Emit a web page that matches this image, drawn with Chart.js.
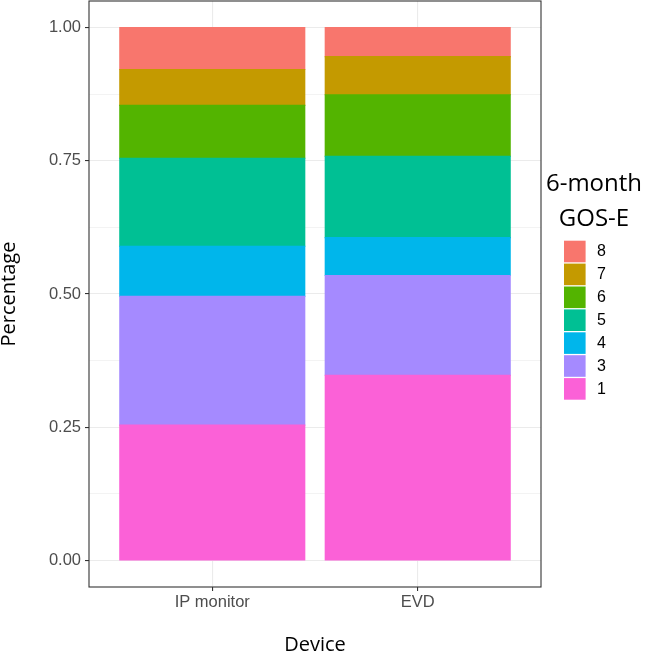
<!DOCTYPE html>
<html>
<head>
<meta charset="utf-8">
<script src="https://cdn.jsdelivr.net/npm/chart.js@4/dist/chart.umd.min.js"></script>
<style>
  html, body { margin: 0; padding: 0; background: #ffffff; }
  #wrap { width: 645px; height: 653px; position: relative; }
</style>
</head>
<body>
<div id="wrap"><canvas id="c" width="645" height="653"></canvas></div>
<script>
// ---- data ----
const categories = ['IP monitor', 'EVD'];
const gosLevels = ['1', '3', '4', '5', '6', '7', '8'];           // bottom -> top of stack
const ipMonitorShares = [0.254, 0.2414, 0.0942, 0.1652, 0.0992, 0.0674, 0.0786];
const evdShares       = [0.3475, 0.1872, 0.0711, 0.1528, 0.1154, 0.0717, 0.0543];
const levelColors = ['#FB61D7', '#A58AFF', '#00B6EB', '#00C094', '#53B400', '#C49A00', '#F8766D'];
const yMajorTicks = [0, 0.25, 0.5, 0.75, 1];
const yMinorTicks = [0.125, 0.375, 0.625, 0.875];
const yTickLabels = ['0.00', '0.25', '0.50', '0.75', '1.00'];
const legendTitle = ['6-month', 'GOS-E'];
const xTitle = 'Device';
const yTitle = 'Percentage';

const catPositions = categories.map((c, i) => i + 1);

const datasets = gosLevels.map((lvl, i) => ({
  label: lvl,
  data: [
    { x: catPositions[0], y: ipMonitorShares[i] },
    { x: catPositions[1], y: evdShares[i] }
  ],
  backgroundColor: levelColors[i],
  borderWidth: 0,
  inflateAmount: 0.6,
  barPercentage: 0.9,
  categoryPercentage: 1.0
}));

const tickFont = { family: "'Liberation Sans', Arial, sans-serif", size: 16.5 };
const titleFamily = "'Open Sans', 'Noto Sans', sans-serif";

const panelBox = {
  id: 'panelBox',
  afterDatasetsDraw(chart) {
    const { ctx, chartArea: a } = chart;
    ctx.save();
    ctx.strokeStyle = '#333333';
    ctx.lineWidth = 1.1;
    ctx.strokeRect(a.left, a.top, a.right - a.left, a.bottom - a.top);
    ctx.restore();
  }
};

const ggLegend = {
  id: 'ggLegend',
  afterDraw(chart) {
    const { ctx } = chart;
    ctx.save();
    ctx.fillStyle = '#000000';
    ctx.font = "24px " + titleFamily;
    ctx.textAlign = 'center';
    ctx.textBaseline = 'alphabetic';
    const cx = 594;
    ctx.fillText(legendTitle[0], cx, 191);
    ctx.fillText(legendTitle[1], cx, 226);
    const keyX = 564, keySize = 21.6, step = 22.9, top0 = 240.7;
    const n = chart.data.datasets.length;
    ctx.font = "16px 'Liberation Sans', Arial, sans-serif";
    ctx.textAlign = 'left';
    ctx.textBaseline = 'middle';
    for (let k = 0; k < n; k++) {
      const ds = chart.data.datasets[n - 1 - k];
      const y = top0 + k * step;
      ctx.fillStyle = ds.backgroundColor;
      ctx.fillRect(keyX, y, keySize, keySize);
      ctx.fillStyle = '#000000';
      ctx.fillText(ds.label, 597, y + keySize / 2 + 0.5);
    }
    ctx.restore();
  }
};

new Chart(document.getElementById('c'), {
  type: 'bar',
  data: { datasets },
  plugins: [panelBox, ggLegend],
  options: {
    responsive: false,
    animation: false,
    events: [],
    layout: { padding: { left: 0, right: 104, top: 1, bottom: 0 } },
    plugins: { legend: { display: false }, tooltip: { enabled: false } },
    scales: {
      x: {
        type: 'linear',
        stacked: true,
        offset: false,
        min: 0.4,
        max: 2.6,
        afterBuildTicks(scale) { scale.ticks = catPositions.map(v => ({ value: v })); },
        afterFit(scale) { scale.height = 66; scale.paddingLeft = 0; scale.paddingRight = 0; },
        ticks: {
          font: tickFont,
          color: '#4D4D4D',
          padding: 2,
          autoSkip: false,
          maxRotation: 0,
          callback: (v) => categories[Math.round(v) - 1] ?? ''
        },
        grid: { offset: false, color: '#EBEBEB', lineWidth: 1.1, tickColor: '#333333', tickLength: 4, tickWidth: 1.1 },
        border: { display: false },
        title: {
          display: true,
          text: xTitle,
          color: '#000000',
          font: { family: titleFamily, size: 20, lineHeight: 1 },
          padding: { top: 0, bottom: -2.5 }
        }
      },
      y: {
        type: 'linear',
        stacked: true,
        min: -0.05,
        max: 1.05,
        afterBuildTicks(scale) {
          scale.ticks = yMajorTicks.concat(yMinorTicks).sort((a, b) => a - b).map(v => ({ value: v }));
        },
        afterFit(scale) { scale.width = 89; scale.paddingTop = 0; scale.paddingBottom = 0; },
        ticks: {
          font: tickFont,
          color: '#4D4D4D',
          padding: 4,
          autoSkip: false,
          callback: (v) => {
            const i = yMajorTicks.findIndex(m => Math.abs(m - v) < 1e-9);
            return i >= 0 ? yTickLabels[i] : '';
          }
        },
        grid: {
          color: '#EBEBEB',
          lineWidth: (c) => (yMajorTicks.some(m => Math.abs(m - c.tick.value) < 1e-9) ? 1.1 : 0.6),
          tickColor: (c) => (yMajorTicks.some(m => Math.abs(m - c.tick.value) < 1e-9) ? '#333333' : 'rgba(0,0,0,0)'),
          tickLength: 4,
          tickWidth: 1.1
        },
        border: { display: false },
        title: {
          display: true,
          text: yTitle,
          color: '#000000',
          font: { family: titleFamily, size: 20, lineHeight: 1 },
          padding: { top: -1, bottom: 0 }
        }
      }
    }
  }
});
</script>
</body>
</html>
